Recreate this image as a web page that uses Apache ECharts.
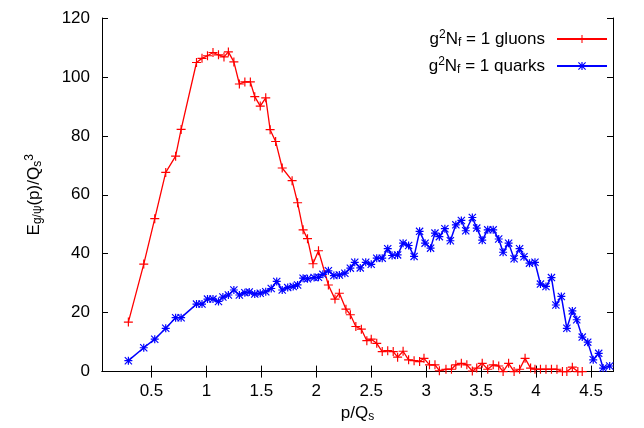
<!DOCTYPE html>
<html>
<head>
<meta charset="utf-8">
<script src="https://cdn.jsdelivr.net/npm/echarts@6/dist/echarts.min.js"></script>
<style>
html, body { margin: 0; padding: 0; background: #fff; }
#chart { width: 644px; height: 428px; }
</style>
</head>
<body>
<div id="chart"></div>
<script>
// values
var gluonX = [0.29, 0.43, 0.53, 0.63, 0.72, 0.77, 0.91, 0.96, 1.01, 1.06, 1.11, 1.16,
  1.2, 1.25, 1.3, 1.35, 1.4, 1.44, 1.49, 1.54, 1.58, 1.63, 1.69, 1.78,
  1.83, 1.88, 1.92, 1.97, 2.02, 2.11, 2.17, 2.21, 2.27, 2.31, 2.36, 2.41,
  2.46, 2.5, 2.55, 2.6, 2.65, 2.7, 2.74, 2.79, 2.84, 2.89, 2.94, 2.98,
  3.03, 3.08, 3.12, 3.18, 3.23, 3.27, 3.32, 3.37, 3.42, 3.46, 3.51, 3.56,
  3.61, 3.66, 3.7, 3.75, 3.8, 3.85, 3.9, 3.95, 3.99, 4.04, 4.09, 4.14,
  4.19, 4.24, 4.28, 4.33, 4.38, 4.42];
var gluonY = [16.8, 36.5, 51.9, 67.6, 73.1, 82.2, 104.9, 106.3, 107.2, 108.3, 107.5, 106.8,
  108.5, 105.1, 97.6, 98.3, 98.3, 93.3, 90.1, 92.9, 82.1, 78.1, 69.1, 64.8,
  57.3, 48.1, 45.1, 36.6, 41.0, 29.4, 24.6, 26.6, 21.2, 19.3, 15.3, 14.4,
  10.5, 11.0, 9.6, 6.8, 7.1, 6.8, 4.9, 6.9, 4.0, 3.7, 3.4, 4.5,
  2.3, 2.3, 0.3, 0.8, 0.8, 2.3, 2.8, 2.3, 0.2, 1.2, 2.8, 0.8,
  2.3, 1.9, 0.0, 2.8, 0.0, 0.8, 4.5, 1.2, 0.8, 0.8, 0.8, 0.8,
  0.8, 0.0, 0.0, 1.5, 0.0, 0.0];

var quarkX = [0.29, 0.43, 0.53, 0.63, 0.72, 0.77, 0.91, 0.96, 1.01, 1.06, 1.11, 1.15,
  1.2, 1.25, 1.3, 1.35, 1.39, 1.44, 1.49, 1.54, 1.59, 1.64, 1.69, 1.74,
  1.79, 1.83, 1.88, 1.92, 1.98, 2.02, 2.06, 2.11, 2.16, 2.21, 2.26, 2.31,
  2.35, 2.4, 2.45, 2.5, 2.55, 2.6, 2.65, 2.69, 2.74, 2.79, 2.84, 2.89,
  2.94, 2.99, 3.04, 3.08, 3.12, 3.17, 3.22, 3.27, 3.32, 3.36, 3.42, 3.46,
  3.51, 3.56, 3.61, 3.66, 3.7, 3.75, 3.8, 3.85, 3.89, 3.94, 3.99, 4.04,
  4.09, 4.14, 4.18, 4.23, 4.28, 4.33, 4.37, 4.42, 4.47, 4.52, 4.57, 4.61, 4.67];
var quarkY = [3.7, 8.1, 11.0, 14.7, 18.3, 18.3, 22.9, 22.9, 24.6, 24.6, 23.8, 25.3,
  26.0, 27.7, 26.0, 26.8, 27.0, 26.3, 26.6, 27.1, 28.2, 30.6, 27.7, 28.5,
  28.9, 29.4, 31.7, 31.5, 31.9, 32.0, 33.0, 34.2, 32.6, 32.8, 33.4, 35.1,
  37.1, 35.2, 37.1, 36.4, 38.5, 38.5, 41.7, 39.4, 39.6, 43.6, 42.8, 39.1,
  47.6, 43.6, 41.9, 47.0, 45.8, 48.5, 44.4, 49.8, 51.3, 47.8, 52.3, 48.7,
  44.6, 48.1, 48.1, 45.0, 40.5, 43.6, 38.3, 41.7, 39.0, 36.8, 37.1, 29.7,
  28.9, 31.9, 22.6, 25.5, 14.7, 20.6, 17.6, 11.7, 10.0, 4.0, 6.2, 1.2, 1.9];

var xTicks = [0.5, 1, 1.5, 2, 2.5, 3, 3.5, 4, 4.5];

var font = '"Liberation Sans", Arial, Helvetica, sans-serif';
var plusPath = 'path://M4.35,0h1.3v4.35h4.35v1.3h-4.35v4.35h-1.3v-4.35h-4.35v-1.3h4.35z';
var starPath = 'path://M4.25,0h1.5v10h-1.5z M0,4.25h10v1.5h-10z M1,0L10,9L9,10L0,1z M9,0L10,1L1,10L0,9z';

function zip(xs, ys) {
  return xs.map(function (x, i) { return [x, ys[i]]; });
}

var rich = {
  t: { fontSize: 17, fontFamily: font, color: '#000', lineHeight: 20, verticalAlign: 'middle' },
  sup: { fontSize: 12, fontFamily: font, color: '#000', lineHeight: 11, verticalAlign: 'top' },
  sub: { fontSize: 12, fontFamily: font, color: '#000', lineHeight: 11, verticalAlign: 'bottom' },
  gap: { width: 7 }
};

var chart = echarts.init(document.getElementById('chart'));

var axisCommon = {
  axisLine: { show: true, lineStyle: { color: '#000', width: 1 } },
  axisTick: { show: true, inside: true, length: 6, lineStyle: { color: '#000' } },
  splitLine: { show: false }
};

var option = {
  animation: false,
  backgroundColor: '#fff',
  grid: { left: 102, right: 31, top: 18, bottom: 55 },
  legend: {
    data: ['gluons', 'quarks'],
    orient: 'vertical',
    right: 31,
    top: 24,
    align: 'right',
    itemWidth: 50,
    itemHeight: 10,
    itemGap: 7,
    formatter: function (name) {
      return '{t|g}{sup|2}{t|N}{sub|f}{t| = 1 ' + name + '}{gap|}';
    },
    textStyle: { rich: rich }
  },
  xAxis: [
    Object.assign({}, axisCommon, {
      type: 'value', position: 'bottom', min: 0.05, max: 4.7,
      axisTick: { show: true, inside: true, length: 6, customValues: xTicks, lineStyle: { color: '#000' } },
      axisLabel: { customValues: xTicks, color: '#000', fontSize: 17, fontFamily: font, margin: 11 },
      name: '{t|p/Q}{sub|s}', nameLocation: 'middle', nameGap: 28,
      nameTextStyle: { rich: rich }
    }),
    Object.assign({}, axisCommon, {
      type: 'value', position: 'top', min: 0.05, max: 4.7,
      axisTick: { show: true, inside: true, length: 6, customValues: xTicks, lineStyle: { color: '#000' } },
      axisLabel: { show: false }
    })
  ],
  yAxis: [
    Object.assign({}, axisCommon, {
      type: 'value', position: 'left', min: 0, max: 120, interval: 20,
      axisLabel: { color: '#000', fontSize: 17, fontFamily: font, margin: 12, padding: [7, 0, 0, 0] },
      name: '{t|E}{sub|g/ψ}{t|(p)/Q}{sub|s}{sup|3}', nameLocation: 'middle', nameGap: 58, nameRotate: 90,
      nameTextStyle: { rich: rich }
    }),
    Object.assign({}, axisCommon, {
      type: 'value', position: 'right', min: 0, max: 120, interval: 20,
      axisLabel: { show: false }
    })
  ],
  series: [
    {
      name: 'gluons', type: 'line', data: zip(gluonX, gluonY),
      symbol: plusPath, symbolSize: 9, showAllSymbol: true,
      itemStyle: { color: '#ff0000' },
      lineStyle: { color: '#ff0000', width: 1.3 }
    },
    {
      name: 'quarks', type: 'line', data: zip(quarkX, quarkY),
      symbol: starPath, symbolSize: 8, showAllSymbol: true,
      itemStyle: { color: '#0000ff' },
      lineStyle: { color: '#0000ff', width: 1.5 }
    }
  ]
};

chart.setOption(option);
</script>
</body>
</html>
